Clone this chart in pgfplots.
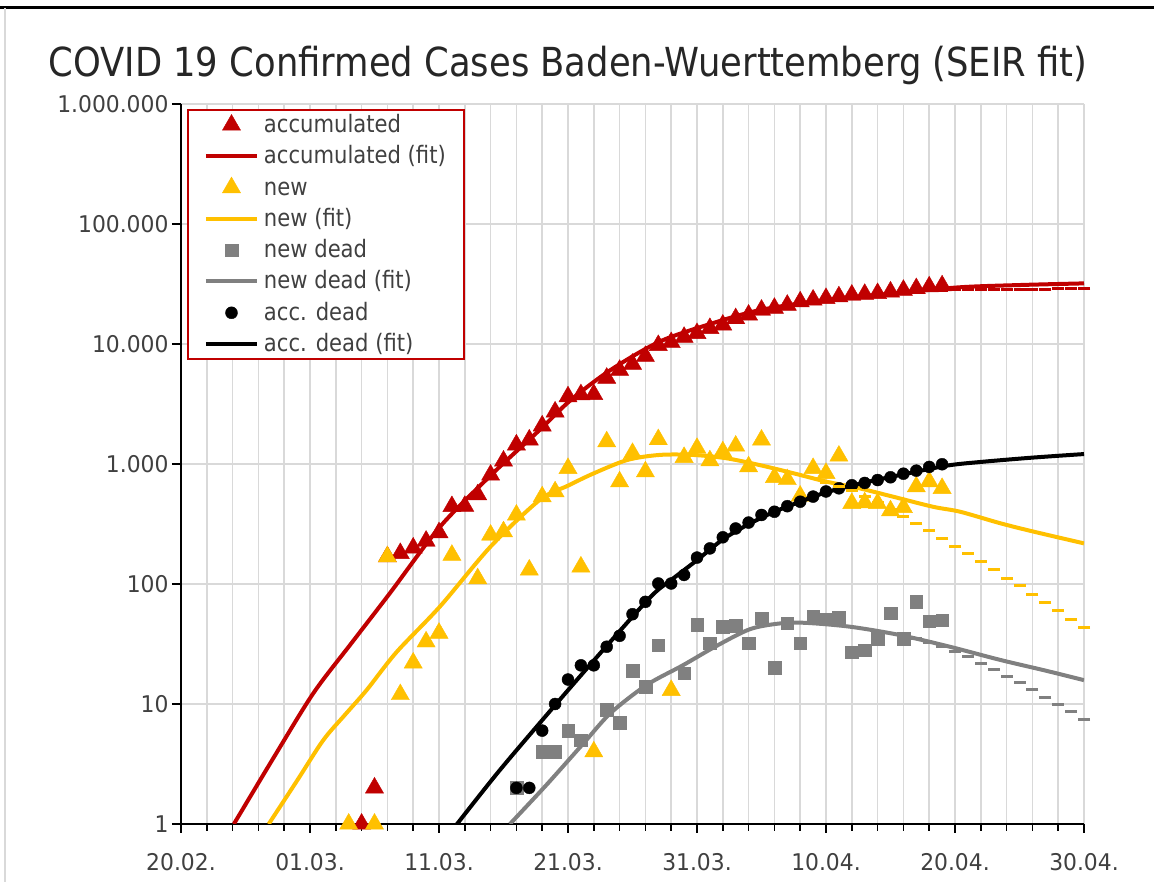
\documentclass[border=0pt]{standalone}
\usepackage{fontspec}
\setmainfont{DejaVu Sans}[FakeStretch=0.88]
\newfontfamily\tickfont{DejaVu Sans}[FakeStretch=0.95]
\newfontfamily\titlefont{DejaVu Sans}[FakeStretch=0.884]
\usepackage{pgfplots}
\usepackage{pgfplotstable}
\pgfplotsset{compat=1.18}
\definecolor{cred}{HTML}{C00000}
\definecolor{cyel}{HTML}{FFC000}
\definecolor{cgray}{HTML}{808080}
\definecolor{cgrid}{HTML}{D9D9D9}
\definecolor{ctext}{HTML}{404040}
\definecolor{ctitle}{HTML}{262626}

% day 0 = 20.02.
\pgfplotstableread{
d v
14 1
15 2
16 169
17 180
18 200
19 228
20 268
21 443
22 445
23 555
24 810
25 1060
26 1445
27 1590
28 2080
29 2720
30 3640
31 3790
32 3800
33 5200
34 6050
35 6800
36 7900
37 9750
38 10300
39 11400
40 12250
41 13500
42 14400
43 16300
44 17450
45 19200
46 19900
47 21100
48 22500
49 23300
50 24000
51 24800
52 25600
53 26000
54 26400
55 27200
56 28100
57 29000
58 30000
59 30600
}\accdata

\pgfplotstableread{
d v
4.1 1
7.2 3.6
10.26 12.3
13.2 32
16.2 84
20.08 300
24.2 841
27.8 1920
30.2 3400
33.3 6070
37.1 10460
41 14650
44.9 19200
50 23270
55.2 26400
60.4 29700
65 31000
70 32000
}\accfit

\pgfplotstableread{
d v
57 27600
58 27900
59 28100
60 28300
61 28400
62 28500
63 28550
64 28600
65 28650
66 28700
67 28700
68 28750
69 28750
70 28800
}\accdash

\pgfplotstableread{
d v
13 1
15 1
16 169
17 12
18 22
19 33
20 39
21 174
23 111
24 256
25 273
26 376
27 131
28 534
29 588
30 920
31 139
32 4
33 1534
34 712
35 1227
36 862
37 1600
38 13
39 1137
40 1353
41 1066
42 1267
43 1413
44 950
45 1585
46 773
47 743
48 541
49 920
50 836
51 1166
52 470
53 476
54 470
55 408
56 435
57 647
58 713
59 627
}\newdata

\pgfplotstableread{
d v
6.8 1
9 2.3
11.03 5
12.7 8.1
14.4 13.1
16.7 27
20.08 65
24 205
27.8 501
30 660
32 836
34.6 1080
37.1 1190
39.7 1190
42.3 1115
44.9 977
47.5 836
50.05 712
52.6 627
55.2 534
58.3 440
60.4 400
63.5 321
66.1 273
70 218
}\newfit

\pgfplotstableread{
d v
50 700
51 655
52 607
53 541
54 475
55 418
56 366
57 321
58 278
59 240
60 207
61 180
62 153
63 133
64 112
65 97.5
66 82.5
67 70
68 59.6
69 50.8
70 43.6
}\newdash

\pgfplotstableread{
d v
26 2
28 4
29 4
30 6
31 5
33 9
34 7
35 19
36 14
37 31
39 18
40 46
41 32
42 44
43 45
44 32
45 52
46 20
47 47
48 32
49 54
50 51
51 53
52 27
53 28
54 35
55 57
56 35
57 71
58 49
59 50
}\ndeaddata

\pgfplotstableread{
d v
25.5 1
28.3 2.1
31.2 4.7
33.3 8.4
36.1 14.4
38.9 21
41.4 30
44.1 42
46.5 47
48.5 47.4
51.9 44
55.7 37.6
59.6 30
63.5 23.3
67 19
70 15.8
}\ndeadfit

\pgfplotstableread{
d v
57 35
58 32.5
59 30
60 27.3
61 24.8
62 21.8
63 19.5
64 16.9
65 15.1
66 13.1
67 11.4
68 9.9
69 8.6
70 7.4
}\ndeaddash

\pgfplotstableread{
d v
26 2
27 2
28 6
29 10
30 16
31 21
32 21
33 30
34 37
35 56
36 71
37 101
38 101
39 119
40 166
41 198
42 245
43 290
44 325
45 376
46 400
47 445
48 485
49 535
50 590
51 627
52 665
53 695
54 735
55 775
56 830
57 880
58 945
59 995
}\adeaddata

\pgfplotstableread{
d v
21.4 1
24.7 2.8
28.9 9.5
32.5 26.5
36.4 78
38 108
40 158
42 235
44 315
46 400
48 485
50 580
53 700
56 820
59.4 970
62 1040
66 1130
70 1210
}\adeadfit

\begin{document}
\begin{tikzpicture}[x=1pt,y=1pt]
\path[use as bounding box] (-181,-58) rectangle (973,824);
\draw[black, line width=3pt] (-181,816) -- (973,816);
\draw[cgrid, line width=2pt] (-176,816) -- (-176,-58);
\begin{axis}[
  at={(0,0)}, anchor=south west,
  scale only axis, width=903pt, height=720pt,
  xmin=0, xmax=70, ymin=1, ymax=1000000,
  ymode=log, log basis y=10,
  axis x line*=bottom, axis y line*=left,
  axis line style={black, line width=2pt, -},
  xtick={0,10,...,70},
  xticklabels={20.02.,01.03.,11.03.,21.03.,31.03.,10.04.,20.04.,30.04.},
  minor x tick num=4,
  ytick={1,10,100,1000,10000,100000,1000000},
  yticklabels={1,10,100,1.000,10.000,100.000,1.000.000},
  xmajorgrids, xminorgrids, ymajorgrids, yminorgrids,
  major grid style={cgrid, line width=1.5pt},
  minor grid style={cgrid, line width=1.5pt},
  tick align=outside,
  major tick length=9pt, minor tick length=7pt,
  tick style={black, line width=1.5pt},
  ticklabel style={font=\tickfont\fontsize{23}{26}\selectfont, text=ctext},
  xticklabel style={yshift=-17pt},
  clip mode=individual,
  legend style={at={(0,1)}, anchor=north west, xshift=6pt, yshift=-5pt,
    draw=cred, line width=2pt, fill=white, text=ctext,
    font=\fontsize{24}{28}\selectfont,
    inner xsep=16pt, inner ysep=1.5pt, row sep=4.3pt, column sep=3pt,
    nodes={inner sep=2pt, text height=19pt, text depth=4pt}},
  legend cell align=left,
  legend image code/.code={\draw[mark repeat=2,mark phase=2,#1] plot coordinates {(0pt,0pt) (25.5pt,0pt) (51pt,0pt)};},
]
\addplot[cred, only marks, mark=triangle*, mark size=10.5pt, mark options={line width=0.4pt}] table {\accdata};
\addlegendentry{accumulated}
\addplot[cred, line width=4pt, smooth, no marks] table {\accfit};
\addlegendentry{accumulated (fit)}
\addplot[cyel, only marks, mark=triangle*, mark size=10.5pt, mark options={line width=0.4pt}] table {\newdata};
\addlegendentry{new}
\addplot[cyel, line width=4pt, smooth, no marks] table {\newfit};
\addlegendentry{new (fit)}
\addplot[cgray, only marks, mark=square*, mark size=6.3pt, mark options={line width=0.4pt}] table {\ndeaddata};
\addlegendentry{new dead}
\addplot[cgray, line width=4pt, smooth, no marks] table {\ndeadfit};
\addlegendentry{new dead (fit)}
\addplot[black, only marks, mark=*, mark size=6pt, mark options={line width=0.4pt}] table {\adeaddata};
\addlegendentry{acc. dead}
\addplot[black, line width=4pt, smooth, no marks] table {\adeadfit};
\addlegendentry{acc. dead (fit)}
\addplot[cred, only marks, mark=-, mark size=6pt, line width=3pt, forget plot] table {\accdash};
\addplot[cyel, only marks, mark=-, mark size=6pt, line width=3pt, forget plot] table {\newdash};
\addplot[cgray, only marks, mark=-, mark size=6pt, line width=3pt, forget plot] table {\ndeaddash};
\end{axis}
\node[anchor=base, font=\titlefont\fontsize{40}{42}\selectfont, text=ctitle] at (387,747) {COVID 19 Confirmed Cases Baden-Wuerttemberg (SEIR fit)};
\end{tikzpicture}
\end{document}
